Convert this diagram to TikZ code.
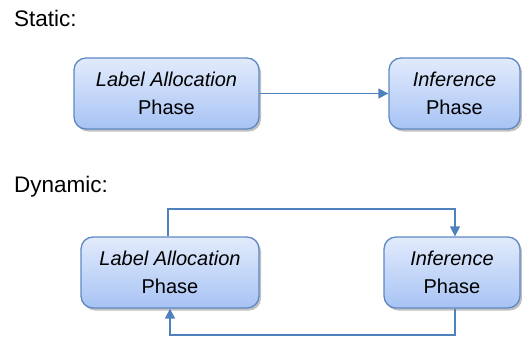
\documentclass[tikz,border=0pt]{standalone}
\usepackage{fontspec}
\setmainfont{Liberation Sans}
\usetikzlibrary{arrows.meta,shadows}
\definecolor{linkblue}{HTML}{4F81BD}
\definecolor{boxedge}{HTML}{5F89C2}
\definecolor{boxtop}{HTML}{E2EBFC}
\definecolor{boxbottom}{HTML}{A7C3F4}
\tikzset{
  phasebox/.style={draw=boxedge, line width=1.3pt, rounded corners=12pt,
    top color=boxtop, bottom color=boxbottom,
    drop shadow={shadow xshift=2pt, shadow yshift=-2.5pt, opacity=0.35, fill=black!70},
    minimum height=71pt, inner sep=0pt, align=center,
    font=\fontsize{20pt}{28pt}\selectfont},
  heading/.style={anchor=base west, inner sep=0pt, font=\fontsize{22.5pt}{27pt}\selectfont},
  link/.style={draw=linkblue, line width=1.4pt},
  linkarrow/.style={link, -{Triangle[length=10pt,width=10pt]}}
}
\begin{document}
\begin{tikzpicture}[x=1pt, y=-1pt]
  \useasboundingbox (0,0) rectangle (522,337);

  % Static case
  \node[heading] (static) at (14,27) {Static:};
  \node[phasebox, minimum width=185pt] (sla) at (166.5,93.5) {\itshape Label Allocation\\Phase};
  \node[phasebox, minimum width=131pt] (sinf) at (454.5,93.5) {\itshape Inference\\Phase};
  \draw[linkarrow] (sla.east) -- (sinf.west);

  % Dynamic case
  \node[heading] (dynamic) at (14,192) {Dynamic:};
  \node[phasebox, minimum width=178pt] (dla) at (170,272.5) {\itshape Label Allocation\\Phase};
  \node[phasebox, minimum width=136pt] (dinf) at (452,272.5) {\itshape Inference\\Phase};

  \coordinate (tl) at (168,209);
  \coordinate (tr) at (455,209);
  \coordinate (br) at (455,335);
  \coordinate (bl) at (170,335);

  \draw[linkarrow] (dla.north -| tl) -- (tl) -- (tr) -- (tr |- dinf.north);
  \draw[linkarrow] (dinf.south -| br) -- (br) -- (bl) -- (bl |- dla.south);
\end{tikzpicture}
\end{document}
